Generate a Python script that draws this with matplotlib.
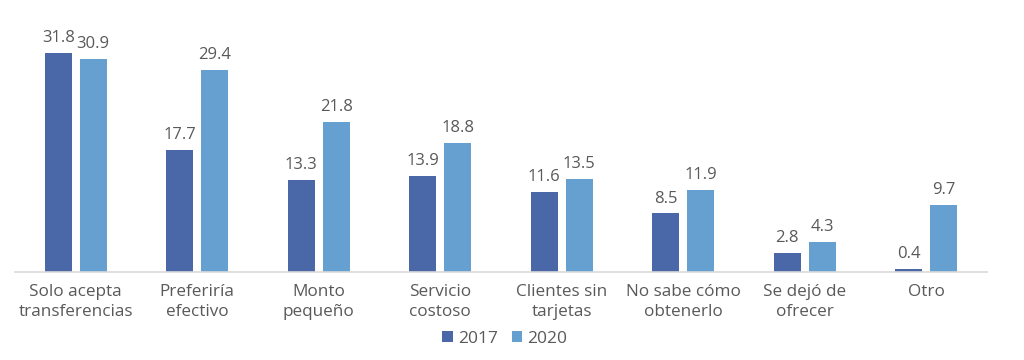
import numpy as np
from matplotlib import pyplot as plt

categories = ['Solo acepta\ntransferencias', 'Preferiría\nefectivo', 'Monto\npequeño',
              'Servicio\ncostoso', 'Clientes sin\ntarjetas', 'No sabe cómo\nobtenerlo',
              'Se dejó de\nofrecer', 'Otro']
values_2017 = [31.8, 17.7, 13.3, 13.9, 11.6, 8.5, 2.8, 0.4]
values_2020 = [30.9, 29.4, 21.8, 18.8, 13.5, 11.9, 4.3, 9.7]

color_2017 = '#4a67a8'
color_2020 = '#66a0d1'
text_color = '#595959'

plt.rcParams['font.family'] = ['Open Sans', 'DejaVu Sans']

fig = plt.figure(figsize=(10.24, 3.6), dpi=100)
ax = fig.add_axes([15 / 1024, 88 / 360, 972 / 1024, 241 / 360])

x = np.arange(len(categories))
w = 0.225
off = 0.144
b1 = ax.bar(x - off, values_2017, w, color=color_2017, label='2017')
b2 = ax.bar(x + off, values_2020, w, color=color_2020, label='2020')

for bars in (b1, b2):
    for rect in bars:
        h = rect.get_height()
        ax.annotate(f'{h:.1f}', (rect.get_x() + rect.get_width() / 2, h),
                    xytext=(0, 5), textcoords='offset points',
                    ha='center', va='bottom', fontsize=12, color=text_color)

ax.set_xlim(-0.5, len(categories) - 0.5)
ax.set_ylim(0, 35)
ax.set_xticks(x)
ax.set_xticklabels(categories, fontsize=12.3, color=text_color, linespacing=1.25)
ax.tick_params(axis='x', length=0, pad=9)
ax.set_yticks([])
for s in ('top', 'right', 'left'):
    ax.spines[s].set_visible(False)
ax.spines['bottom'].set_color('#d9d9d9')
ax.spines['bottom'].set_linewidth(1.2)

fig.legend(handles=[b1, b2], labels=['2017', '2020'], loc='center',
           bbox_to_anchor=(505 / 1024, 1 - 339 / 360), ncol=2, frameon=False,
           fontsize=12.5, handlelength=0.6, handleheight=0.6, handletextpad=0.3,
           columnspacing=0.8, labelcolor=text_color)

fig.savefig('out.png', dpi=100)
